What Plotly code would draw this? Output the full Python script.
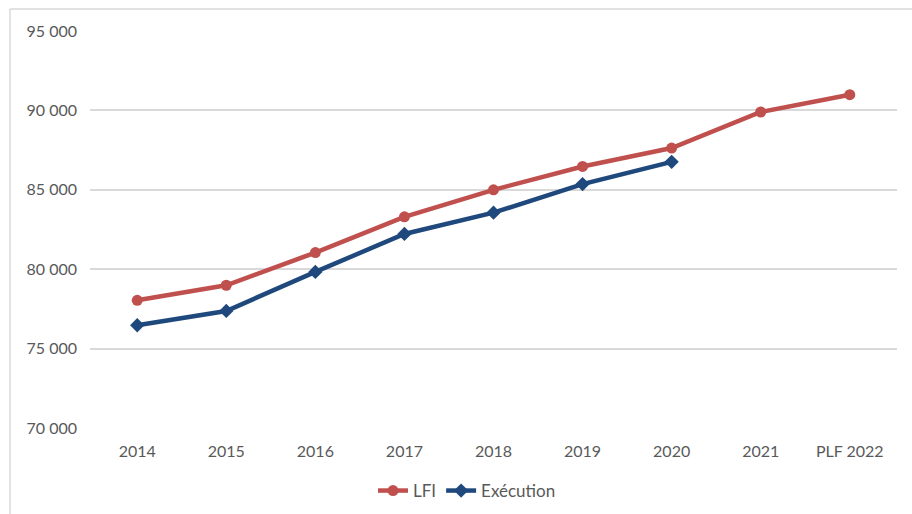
import plotly.graph_objects as go

# données
annees = ["2014", "2015", "2016", "2017", "2018", "2019", "2020", "2021", "PLF 2022"]
lfi = [78040, 78990, 81050, 83300, 85000, 86470, 87630, 89900, 90990]
execution = [76470, 77370, 79830, 82220, 83560, 85360, 86760, None, None]

ROUGE = "#C0504D"
BLEU = "#1F497D"
GRIS_TXT = "#595959"
GRIS_GRILLE = "#D9D9D9"

# zone de tracé en pixels (fenêtre 912x514)
L, R, T, B = 90, 897, 31, 428
W, H = 912, 514


def px_x(p):
    return (p - L) / (R - L)


def px_y(p):
    return (B - p) / (B - T)


fig = go.Figure()
fig.add_trace(
    go.Scatter(
        x=annees, y=lfi, name="LFI", mode="lines+markers",
        line=dict(color=ROUGE, width=4.5),
        marker=dict(symbol="circle", size=11, color=ROUGE),
    )
)
fig.add_trace(
    go.Scatter(
        x=annees, y=execution, name="Exécution", mode="lines+markers",
        line=dict(color=BLEU, width=4.5),
        marker=dict(symbol="diamond", size=11, color=BLEU),
    )
)

# cadre gris (bord gauche + haut de l'image d'origine)
fig.add_shape(type="line", xref="paper", yref="paper",
              x0=px_x(10), x1=px_x(10), y0=px_y(9), y1=px_y(H + 5),
              line=dict(color=GRIS_GRILLE, width=1.5))
fig.add_shape(type="line", xref="paper", yref="paper",
              x0=px_x(10), x1=px_x(W + 5), y0=px_y(9), y1=px_y(9),
              line=dict(color=GRIS_GRILLE, width=1.5))

fig.update_layout(
    width=W, height=H,
    margin=dict(l=L, r=W - R, t=T, b=H - B, autoexpand=False),
    paper_bgcolor="white", plot_bgcolor="white",
    separators=", ",
    font=dict(family="Lato, 'Open Sans', sans-serif", size=16, color=GRIS_TXT),
    showlegend=True,
    legend=dict(orientation="h", xref="container", yref="container",
                x=467 / W, xanchor="center", y=1 - 491 / H, yanchor="middle",
                font=dict(size=17, color=GRIS_TXT), tracegroupgap=0),
    xaxis=dict(showgrid=False, showline=False, zeroline=False, automargin=False,
               ticks="", ticklabelstandoff=12),
    yaxis=dict(range=[70000, 95000], dtick=5000, tickformat=",d", automargin=False,
               showgrid=True, gridcolor=GRIS_GRILLE, gridwidth=1.5,
               zeroline=False, showline=False, ticks="", ticklabelstandoff=12),
)

# la page a une marge par défaut de 8 px : on la supprime pour caler la figure
fig.write_html("out.html", config={"displayModeBar": False},
               post_script="document.body.style.margin='0';")
